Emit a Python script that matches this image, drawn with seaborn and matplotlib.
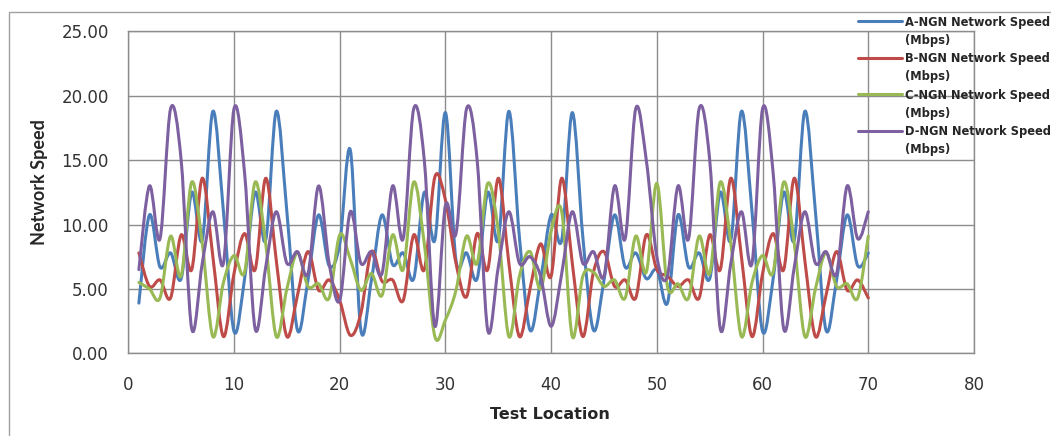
import numpy as np
import pandas as pd
import matplotlib
matplotlib.use("Agg")
import matplotlib.pyplot as plt
from matplotlib.path import Path
from matplotlib.patches import PathPatch, Rectangle
from matplotlib.lines import Line2D
from matplotlib.ticker import FormatStrFormatter, MultipleLocator
import seaborn as sns

# --- dane ---
locations = list(range(1, 71))

speed_a = [3.9, 10.75, 6.7, 7.8, 5.8, 12.5, 8.8, 18.8, 11.0, 1.7,
           5.8, 12.5, 8.8, 18.8, 11.0, 1.8, 5.7, 10.75, 6.8, 8.5,
           15.8, 1.8, 5.7, 10.75, 6.9, 7.8, 5.8, 12.5, 8.8, 18.7,
           7.2, 7.8, 5.8, 12.5, 8.8, 18.8, 9.0, 1.8, 5.7, 10.75,
           8.8, 18.7, 9.0, 1.8, 5.7, 10.75, 6.7, 7.8, 5.8, 6.5,
           3.9, 10.75, 6.7, 7.8, 5.8, 12.5, 8.8, 18.8, 11.0, 1.7,
           5.8, 12.5, 8.8, 18.8, 11.0, 1.8, 5.7, 10.75, 6.8, 7.8]

speed_b = [7.8, 5.2, 5.7, 4.3, 9.2, 6.5, 13.6, 7.5, 1.3, 6.2,
           9.3, 6.5, 13.6, 7.2, 1.3, 4.5, 7.9, 4.9, 5.7, 4.1,
           1.4, 3.1, 7.9, 5.6, 5.7, 4.1, 9.2, 6.5, 13.7, 11.9,
           7.0, 4.4, 9.3, 6.5, 13.6, 7.0, 1.3, 5.0, 8.5, 6.0,
           13.6, 7.0, 1.3, 6.3, 7.9, 5.2, 5.7, 4.3, 9.2, 6.5,
           6.0, 5.2, 5.7, 4.3, 9.2, 6.5, 13.6, 7.5, 1.3, 6.2,
           9.3, 6.5, 13.6, 7.2, 1.3, 4.5, 7.9, 4.9, 5.7, 4.3]

speed_c = [5.5, 5.0, 4.3, 9.1, 6.0, 13.3, 8.5, 1.3, 5.5, 7.6,
           6.3, 13.3, 8.5, 1.3, 5.0, 7.8, 5.2, 5.4, 4.3, 9.2,
           7.3, 4.9, 6.2, 4.5, 9.2, 6.5, 13.3, 8.5, 1.3, 2.6,
           4.9, 9.1, 7.0, 13.2, 9.5, 1.3, 6.0, 7.9, 5.0, 9.5,
           11.0, 1.3, 6.0, 6.3, 5.2, 5.7, 4.3, 9.1, 6.3, 13.2,
           5.2, 5.4, 4.3, 9.1, 6.2, 13.3, 8.5, 1.3, 5.5, 7.6,
           6.3, 13.3, 8.5, 1.3, 5.0, 7.8, 5.2, 5.4, 4.3, 9.1]

speed_d = [6.5, 13.0, 8.9, 19.0, 15.0, 1.9, 7.0, 11.0, 7.0, 19.0,
           14.0, 1.9, 6.7, 11.0, 7.0, 7.9, 6.2, 13.0, 7.0, 4.1,
           11.0, 7.0, 7.9, 6.2, 13.0, 8.9, 19.0, 15.0, 2.1, 11.5,
           9.3, 19.0, 15.0, 1.8, 6.7, 11.0, 7.0, 7.5, 6.0, 2.1,
           6.2, 11.0, 7.0, 7.9, 6.0, 13.0, 8.9, 19.0, 15.0, 7.5,
           6.0, 13.0, 8.9, 19.0, 15.0, 1.9, 7.0, 11.0, 7.0, 19.0,
           14.0, 1.9, 6.7, 11.0, 7.0, 7.9, 6.2, 13.0, 8.9, 11.0]

series_names = ["A-NGN Network Speed (Mbps)", "B-NGN Network Speed (Mbps)",
                "C-NGN Network Speed (Mbps)", "D-NGN Network Speed (Mbps)"]
colors = ["#4A7EBB", "#BE4B48", "#98B954", "#7D60A0"]

df = pd.DataFrame({
    "Test Location": locations * 4,
    "Network Speed": speed_a + speed_b + speed_c + speed_d,
    "Series": np.repeat(series_names, len(locations)),
})


def smooth_path(xs, ys):
    # wygladzona linia jak w Excelu (krzywe Beziera przez punkty)
    n = len(xs)
    verts = [(xs[0], ys[0])]
    codes = [Path.MOVETO]
    for i in range(n - 1):
        xp, yp = (xs[i - 1], ys[i - 1]) if i > 0 else (xs[i], ys[i])
        xn, yn = (xs[i + 2], ys[i + 2]) if i + 2 < n else (xs[i + 1], ys[i + 1])
        c1 = (xs[i] + (xs[i + 1] - xp) / 6, ys[i] + (ys[i + 1] - yp) / 6)
        c2 = (xs[i + 1] - (xn - xs[i]) / 6, ys[i + 1] - (yn - ys[i]) / 6)
        verts += [c1, c2, (xs[i + 1], ys[i + 1])]
        codes += [Path.CURVE4] * 3
    return Path(verts, codes)


sns.set_style("white")
plt.rcParams["font.family"] = ["DejaVu Sans"]

W, H = 1051, 436
fig = plt.figure(figsize=(W / 100, H / 100), dpi=100)
ax = fig.add_axes([128.3 / W, 1 - 353.3 / H, (974 - 128.3) / W, (353.3 - 31.5) / H])

sns.lineplot(data=df, x="Test Location", y="Network Speed", hue="Series",
             palette=colors, legend=False, ax=ax, linewidth=2.2)

for line in list(ax.lines):
    patch = PathPatch(smooth_path(line.get_xdata(), line.get_ydata()), fill=False,
                      edgecolor=line.get_color(), lw=2.2, joinstyle="round",
                      capstyle="round", zorder=2)
    ax.add_patch(patch)
    line.remove()

grid_c = "#8c8c8c"
ax.set_xlim(0, 80)
ax.set_ylim(0, 25)
ax.xaxis.set_major_locator(MultipleLocator(10))
ax.yaxis.set_major_locator(MultipleLocator(5))
ax.yaxis.set_major_formatter(FormatStrFormatter("%.2f"))
ax.grid(True, color=grid_c, lw=1)
ax.set_axisbelow(True)
for sp in ax.spines.values():
    sp.set_color(grid_c)
    sp.set_linewidth(1)
ax.tick_params(axis="y", direction="out", length=7, width=1, color=grid_c,
               labelsize=12, labelcolor="#333333", pad=7)
ax.tick_params(axis="x", direction="out", length=5, width=1, color=grid_c,
               labelsize=12, labelcolor="#333333", pad=11)

ax.set_xlabel("Test Location", fontsize=11.5, fontweight="bold", color="#262626", va="center")
ax.set_ylabel("Network Speed", fontsize=13, fontweight="bold", family=["Lato", "DejaVu Sans"],
              color="#262626", va="center")
ax.xaxis.set_label_coords(550 / W, 1 - 414 / H, transform=fig.transFigure)
ax.yaxis.set_label_coords(40 / W, 1 - 182 / H, transform=fig.transFigure)

# ramka wykresu
fig.add_artist(Rectangle((8.5 / W, -0.05), 1.1, 1 - 12 / H + 0.05, transform=fig.transFigure,
                         fill=False, edgecolor="#a0a0a0", lw=1))

# legenda (dwie linie na wpis)
for i, (name, col) in enumerate(zip(series_names, colors)):
    ly = 21.5 + i * 36.5
    fig.add_artist(Line2D([858 / W, 902 / W], [1 - ly / H, 1 - ly / H],
                          transform=fig.transFigure, color=col, lw=2.2))
    first, second = name.rsplit(" ", 1)
    fig.text(905 / W, 1 - (ly + 4.2) / H, first, fontsize=8.3, fontweight="bold",
             color="#262626", va="baseline")
    fig.text(905 / W, 1 - (ly + 22.2) / H, second, fontsize=8.3, fontweight="bold",
             color="#262626", va="baseline")

fig.savefig("out.png", dpi=100)
